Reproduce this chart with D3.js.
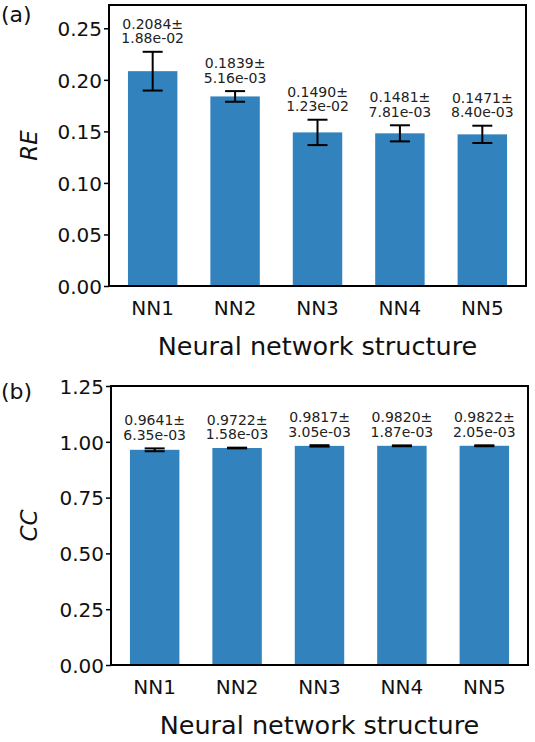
<!DOCTYPE html>
<html><head><meta charset="utf-8">
<script src="https://cdn.jsdelivr.net/npm/d3@7"></script>
<style>body{margin:0;background:#fff;} svg{display:block;font-family:"DejaVu Sans",sans-serif;}</style>
</head><body>
<svg id="c" width="535" height="742"></svg>
<script>
const categories = ["NN1","NN2","NN3","NN4","NN5"];
const reMean = [0.2084, 0.1839, 0.1490, 0.1481, 0.1471];
const reStd  = [0.0188, 0.00516, 0.0123, 0.00781, 0.00840];
const reStdLabel = ["1.88e-02","5.16e-03","1.23e-02","7.81e-03","8.40e-03"];
const ccMean = [0.9641, 0.9722, 0.9817, 0.9820, 0.9822];
const ccStd  = [0.00635, 0.00158, 0.00305, 0.00187, 0.00205];
const ccStdLabel = ["6.35e-03","1.58e-03","3.05e-03","1.87e-03","2.05e-03"];
const reTicks = [0, 0.05, 0.10, 0.15, 0.20, 0.25];
const ccTicks = [0, 0.25, 0.50, 0.75, 1.00, 1.25];

const svg = d3.select("#c");
const barColor = "#3182bd";

function panel(o){
  const g = svg.append("g");
  const x = d3.scaleLinear().domain([-0.53, categories.length - 1 + 0.53]).range([o.left, o.right]);
  const y = d3.scaleLinear().domain([0, o.ymax]).range([o.bottom, o.top]);
  const bw = x(0.6) - x(0);
  // bars
  g.selectAll("rect.bar").data(o.mean).join("rect")
    .attr("x", (d,i)=>x(i)-bw/2).attr("width", bw)
    .attr("y", d=>y(d)).attr("height", d=>y(0)-y(d))
    .attr("fill", barColor);
  // error bars
  const cap = 10;
  o.mean.forEach((m,i)=>{
    const s = o.std[i];
    g.append("line").attr("x1",x(i)).attr("x2",x(i)).attr("y1",y(m-s)).attr("y2",y(m+s)).attr("stroke","#000").attr("stroke-width",2);
    [m-s, m+s].forEach(v=>g.append("line").attr("x1",x(i)-cap).attr("x2",x(i)+cap).attr("y1",y(v)).attr("y2",y(v)).attr("stroke","#000").attr("stroke-width",2));
    const t = g.append("text").attr("text-anchor","middle").attr("font-size",14).attr("fill","#222");
    t.append("tspan").attr("x",x(i)).attr("y",y(m+s)-23).text(m.toFixed(4)+"±");
    t.append("tspan").attr("x",x(i)).attr("y",y(m+s)-8.5).text(o.stdLabel[i]);
  });
  // y axis
  const ax = g.append("g").attr("transform",`translate(${o.left},0)`)
    .call(d3.axisLeft(y).tickValues(o.ticks).tickFormat(d3.format(".2f")).tickSize(5).tickPadding(2));
  ax.select(".domain").remove();
  ax.selectAll(".tick line").attr("stroke","#000").attr("stroke-width",1.5);
  ax.selectAll(".tick text").attr("font-size",20).attr("fill","#111").attr("font-family","DejaVu Sans").attr("dy","0.36em");
  // x tick labels
  categories.forEach((c,i)=>{
    g.append("text").attr("x",x(i)).attr("y",o.bottom+29).attr("text-anchor","middle").attr("font-size",20).attr("fill","#111").text(c);
  });
  // frame
  g.append("rect").attr("x",o.left).attr("y",o.top).attr("width",o.right-o.left).attr("height",o.bottom-o.top)
    .attr("fill","none").attr("stroke","#000").attr("stroke-width",2);
  // titles
  g.append("text").attr("x",(o.left+o.right)/2).attr("y",o.bottom+69).attr("text-anchor","middle").attr("font-size",25.5).attr("fill","#111").text("Neural network structure");
  g.append("text").attr("transform",`translate(37,${(o.top+o.bottom)/2}) rotate(-90)`).attr("text-anchor","middle")
    .attr("font-size",23).attr("font-style","italic").attr("fill","#111").text(o.ylabel);
  g.append("text").attr("x",1).attr("y",o.panelY).attr("font-size",22).attr("fill","#111").text(o.tag);
}

panel({left:109,right:526,top:5,bottom:286,ymax:0.2726,mean:reMean,std:reStd,stdLabel:reStdLabel,ticks:reTicks,ylabel:"RE",tag:"(a)",panelY:22});
panel({left:111,right:528,top:386,bottom:665,ymax:1.25,mean:ccMean,std:ccStd,stdLabel:ccStdLabel,ticks:ccTicks,ylabel:"CC",tag:"(b)",panelY:399});
</script>
</body></html>
